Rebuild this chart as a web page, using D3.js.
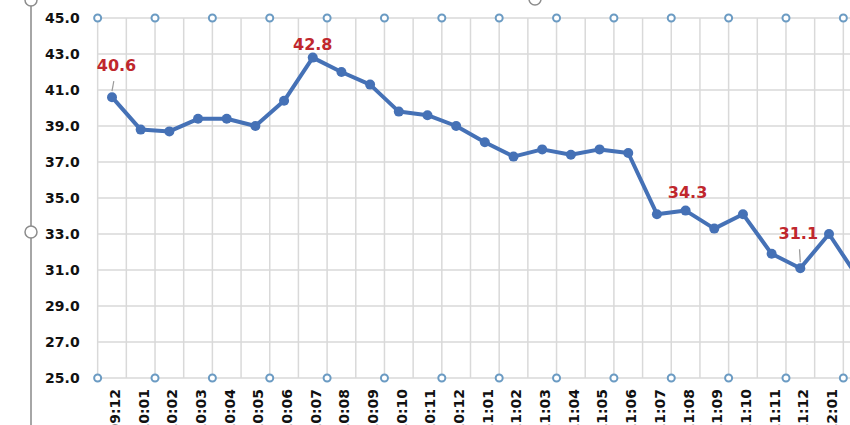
<!DOCTYPE html>
<html>
<head>
<meta charset="utf-8">
<script src="https://cdn.jsdelivr.net/npm/d3@7/dist/d3.min.js"></script>
<style>
  html, body { margin: 0; padding: 0; background: #ffffff; }
  svg { display: block; }
</style>
</head>
<body>
<svg id="chart" width="850" height="425"></svg>
<script>
// ---- data ----
const categories = [
  "2009:12",
  "2010:01","2010:02","2010:03","2010:04","2010:05","2010:06",
  "2010:07","2010:08","2010:09","2010:10","2010:11","2010:12",
  "2011:01","2011:02","2011:03","2011:04","2011:05","2011:06",
  "2011:07","2011:08","2011:09","2011:10","2011:11","2011:12",
  "2012:01","2012:02"
];
const values = [
  40.6,
  38.8, 38.7, 39.4, 39.4, 39.0, 40.4,
  42.8, 42.0, 41.3, 39.8, 39.6, 39.0,
  38.1, 37.3, 37.7, 37.4, 37.7, 37.5,
  34.1, 34.3, 33.3, 34.1, 31.9, 31.1,
  33.0, 30.6
];
const yTicks = [25, 27, 29, 31, 33, 35, 37, 39, 41, 43, 45];
const labelledCategories = ["2009:12", "2010:07", "2011:08", "2011:12"];

// ---- layout (not data) ----
const W = 850, H = 425;
const plot = { left: 97.66, top: 18, bottom: 378, step: 28.68 };
const labelLayout = {
  "2009:12": { dx: 4.5, dy: -26, leader: true },
  "2010:07": { dx: 0, dy: -8, leader: false },
  "2011:08": { dx: 2, dy: -13, leader: false },
  "2011:12": { dx: -2, dy: -29, leader: true }
};
const lineColor = "#4571b6";
const gridColor = "#d9d9d9";

const svg = d3.select("#chart");
svg.append("rect").attr("width", W).attr("height", H).attr("fill", "#fff");

const x = d3.scaleBand()
  .domain(categories)
  .range([plot.left, plot.left + plot.step * categories.length])
  .paddingInner(0).paddingOuter(0);
const y = d3.scaleLinear().domain([25, 45]).range([plot.bottom, plot.top]);
const xc = c => x(c) + x.bandwidth() / 2;
const xEnd = plot.left + plot.step * categories.length;

// gridlines
const grid = svg.append("g");
grid.selectAll("line.h").data(yTicks).join("line")
  .attr("x1", plot.left).attr("x2", xEnd)
  .attr("y1", d => y(d)).attr("y2", d => y(d))
  .attr("stroke", gridColor).attr("stroke-width", 1.5);
const bounds = categories.map(c => x(c)).concat([xEnd]);
grid.selectAll("line.v").data(bounds).join("line")
  .attr("x1", d => d).attr("x2", d => d)
  .attr("y1", plot.top).attr("y2", plot.bottom)
  .attr("stroke", gridColor).attr("stroke-width", 1.5);

// y axis
const yAxis = svg.append("g")
  .attr("transform", `translate(${plot.left},0)`)
  .call(d3.axisLeft(y).tickValues(yTicks).tickFormat(d3.format(".1f")).tickSize(0).tickPadding(18));
yAxis.select(".domain").remove();
yAxis.selectAll("text")
  .attr("font-family", "DejaVu Sans, Verdana, sans-serif")
  .attr("font-weight", "bold").attr("font-size", 14).attr("fill", "#111");

// x axis
const xAxis = svg.append("g")
  .attr("transform", `translate(0,${plot.bottom})`)
  .call(d3.axisBottom(x).tickSize(0));
xAxis.select(".domain").remove();
xAxis.selectAll("text")
  .attr("transform", "rotate(-90)")
  .attr("x", -11).attr("y", 3).attr("dy", "0.35em")
  .attr("text-anchor", "end")
  .attr("font-family", "DejaVu Sans, Verdana, sans-serif")
  .attr("font-weight", "bold").attr("font-size", 14).attr("fill", "#111");

// series line
const pts = categories.map((c, i) => ({ c, v: values[i] }));
svg.append("path").datum(pts)
  .attr("fill", "none").attr("stroke", lineColor).attr("stroke-width", 4)
  .attr("stroke-linejoin", "round")
  .attr("d", d3.line().x(d => xc(d.c)).y(d => y(d.v)));
svg.append("g").selectAll("circle").data(pts).join("circle")
  .attr("cx", d => xc(d.c)).attr("cy", d => y(d.v)).attr("r", 5)
  .attr("fill", lineColor);

// data labels
const lab = svg.append("g");
labelledCategories.forEach(c => {
  const i = categories.indexOf(c);
  const v = values[i];
  const L = labelLayout[c];
  const px = xc(c), py = y(v);
  if (L.leader) {
    lab.append("line")
      .attr("x1", px + L.dx * 0.4).attr("y1", py + L.dy + 10)
      .attr("x2", px).attr("y2", py - 6)
      .attr("stroke", "#9a9a9a").attr("stroke-width", 1.2);
  }
  lab.append("text")
    .attr("x", px + L.dx).attr("y", py + L.dy)
    .attr("text-anchor", "middle")
    .attr("font-family", "DejaVu Sans, Verdana, sans-serif")
    .attr("font-weight", "bold").attr("font-size", 16)
    .attr("fill", "#c0272d")
    .text(d3.format(".1f")(v));
});

// plot-area selection handles
const handleX = bounds.filter((d, i) => i % 2 === 0);
const handles = svg.append("g");
[plot.top, plot.bottom].forEach(hy => {
  handles.selectAll(null).data(handleX).join("circle")
    .attr("cx", d => d).attr("cy", hy).attr("r", 3.5)
    .attr("fill", "#fff").attr("stroke", "#6b9bc3").attr("stroke-width", 2);
});

// chart-area selection frame
svg.append("line").attr("x1", 31).attr("x2", 31).attr("y1", 0).attr("y2", H)
  .attr("stroke", "#a6a6a6").attr("stroke-width", 2);
[[31, 0], [31, 232], [535, -1]].forEach(([cx, cy]) => {
  svg.append("circle").attr("cx", cx).attr("cy", cy).attr("r", 6)
    .attr("fill", "#fff").attr("stroke", "#8c8c8c").attr("stroke-width", 1.5);
});
</script>
</body>
</html>
